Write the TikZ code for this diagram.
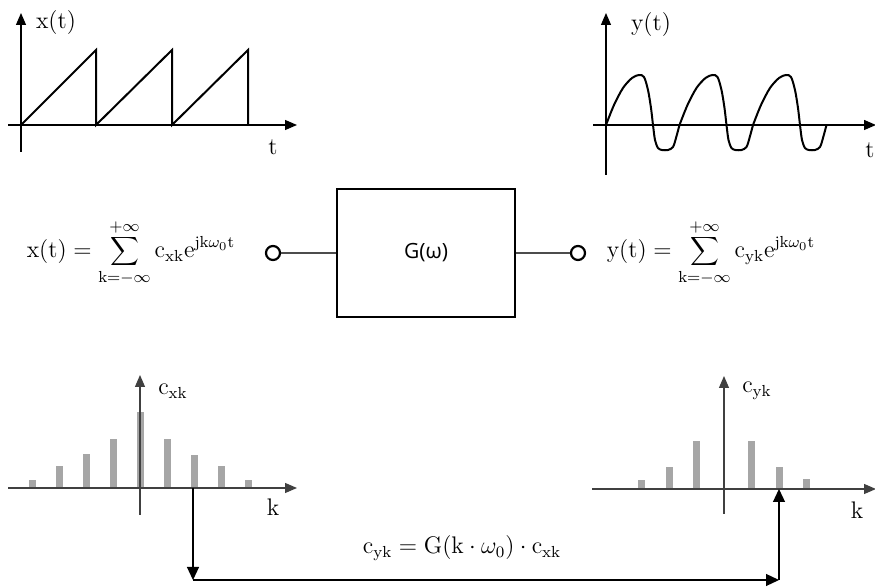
\documentclass[tikz,border=0pt,12pt]{standalone}
\usepackage{fontspec}
\newfontfamily\sysfont{Open Sans}
\usetikzlibrary{arrows.meta}
\definecolor{bargray}{HTML}{A6A6A6}
\tikzset{axis/.style={line width=0.65pt,-{Triangle[length=6pt,width=5pt]}},
  specaxis/.style={axis,draw=black!75},
  signal/.style={line width=1pt},
  link/.style={line width=0.6pt,-{Triangle[length=6.5pt,width=6pt]}},
  wire/.style={line width=0.6pt,draw=black!70},
  port/.style={circle,draw,line width=1.1pt,minimum size=7pt,inner sep=0pt},
  sysbox/.style={draw,line width=1pt,minimum width=89pt,minimum height=64pt,font=\sysfont\fontsize{10.5}{13}\selectfont},
  lbl/.style={inner sep=0pt}
}

\begin{document}
\begin{tikzpicture}[x=0.5pt,y=-0.5pt]
  \useasboundingbox (0,0) rectangle (875,588);

  % Input signal
  \draw[axis] (21,152) -- (21,13);
  \draw[axis] (8,125) -- (297,125);
  \draw[signal] (21,125) -- (96,50) -- (96,125) -- (172,50) -- (172,125) -- (248,50) -- (248,125);
  \node[lbl] (xt) at (56,23) {$\mathrm{x(t)}$};
  \node[lbl] (tx) at (273,147) {$\mathrm{t}$};

  % Output signal
  \draw[axis] (606,175) -- (606,13);
  \draw[axis] (593,125) -- (876,125);
  \foreach \r in {606,679.5,753}
    \draw[signal,shift={(\r,0)}] plot[smooth] coordinates {(0,125) (8,105) (17,88) (26,78) (33,75) (38,77) (42,90) (45,108) (47,125) (49,140) (52,148) (56,150) (62,150) (67,147) (70,138) (73.5,125)};
  \node[lbl] (yt) at (651,25) {$\mathrm{y(t)}$};
  \node[lbl] (ty) at (870,150) {$\mathrm{t}$};

  % System
  \node[port] (in) at (273,253) {};
  \node[sysbox] (sys) at (426,253) {G(ω)};
  \node[port] (out) at (578,253) {};
  \draw[wire] (in) -- (sys);
  \draw[wire] (sys) -- (out);
  \node[lbl] (xsum) at (131,253) {$\mathrm{x(t)} = \displaystyle\sum_{\mathrm{k}=-\infty}^{+\infty}\mathrm{c_{xk}}\mathrm{e}^{\mathrm{jk}\omega_0\mathrm{t}}$};
  \node[lbl] (ysum) at (711,253) {$\mathrm{y(t)} = \displaystyle\sum_{\mathrm{k}=-\infty}^{+\infty}\mathrm{c_{yk}}\mathrm{e}^{\mathrm{jk}\omega_0\mathrm{t}}$};

  % Input spectrum
  \foreach \i/\h in {-4/8,-3/22,-2/34,-1/49,0/76,1/49,2/33,3/22,4/8}
    \fill[bargray] ({140+27*\i-3.5},488) rectangle ++(7,-\h);
  \draw[specaxis] (140,515) -- (140,375);
  \draw[specaxis] (8,488) -- (297,488);
  \node[lbl] (cx) at (173,391) {$\mathrm{c_{xk}}$};
  \node[lbl] (kx) at (273,507) {$\mathrm{k}$};

  % Output spectrum
  \foreach \i/\h in {-3/9,-2/22,-1/48,1/48,2/22,3/10}
    \fill[bargray] ({724+27.5*\i-3.5},489) rectangle ++(7,-\h);
  \draw[specaxis] (724,514) -- (724,376);
  \draw[specaxis] (592,489) -- (876,489);
  \node[lbl] (cy) at (757,391) {$\mathrm{c_{yk}}$};
  \node[lbl] (ky) at (857,510) {$\mathrm{k}$};

  % Mapping
  \coordinate (bx) at (193,488);
  \coordinate (by) at (779,489);
  \coordinate (dl) at (193,580);
  \coordinate (dr) at (779,580);
  \draw[link] (bx) -- (dl);
  \draw[link] (dl) -- (dr);
  \draw[link] (dr) -- (by);
  \node[lbl] (rel) at (462,548) {$\mathrm{c_{yk}} = \mathrm{G}(\mathrm{k}\cdot\omega_0)\cdot\mathrm{c_{xk}}$};

\end{tikzpicture}
\end{document}
